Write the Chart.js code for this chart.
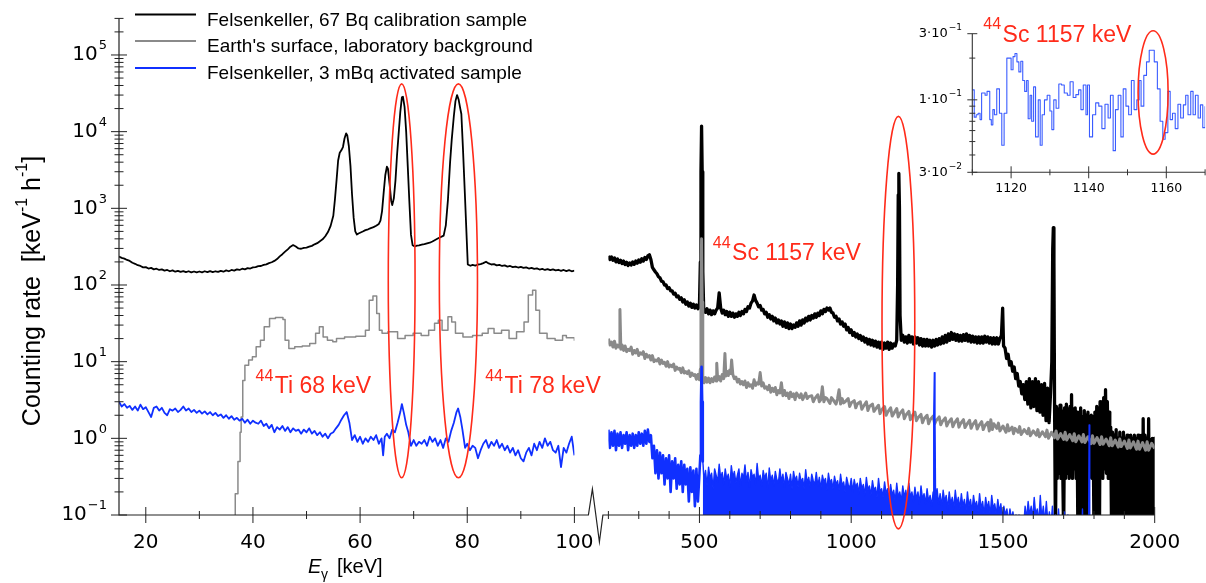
<!DOCTYPE html>
<html>
<head>
<meta charset="utf-8">
<script src="https://cdn.jsdelivr.net/npm/chart.js@4.4.1/dist/chart.umd.min.js"></script>
<style>
html, body { margin: 0; padding: 0; background: #fff; }
#wrap { position: relative; width: 1206px; height: 583px; }
#wrap canvas { position: absolute; left: 0; top: 0; }
</style>
</head>
<body>
<div id="wrap">
  <canvas id="leftChart" width="1206" height="583"></canvas>
  <canvas id="rightChart" width="1206" height="583"></canvas>
  <canvas id="insetChart" width="1206" height="583"></canvas>
</div>
<script>
// Spectra: [E (keV), counting rate (keV^-1 h^-1)]

// low-energy part, 15-100 keV
const calibLeft = [[15,235],[15.5,226],[16,221],[16.5,212],[17,206],[17.5,195],[18,189],[18.5,181],[19,177],[19.5,170],[20,171],[20.5,164],[21,167],[21.5,160],[22,163],[22.5,157],[23,160],[23.5,154],[24,157],[24.5,151],[25,155],[25.5,149],[26,153],[26.5,148],[27,152],[27.5,147],[28,151],[28.5,146],[29,150],[29.5,146],[30,150],[30.5,146],[31,151],[31.5,147],[32,152],[32.5,147],[33,151],[33.5,148],[34,153],[34.5,149],[35,155],[35.5,151],[36,157],[36.5,154],[37,160],[37.5,157],[38,163],[38.5,160],[39,166],[39.5,164],[40,170],[40.5,171],[41,176],[41.5,177],[42,183],[42.5,186],[43,193],[43.5,198],[44,206],[44.5,218],[45,236],[45.5,252],[46,272],[46.5,292],[47,316],[47.5,332],[48,318],[48.5,300],[49,297],[49.5,304],[50,307],[50.5,316],[51,324],[51.5,339],[52,351],[52.5,373],[53,394],[53.5,432],[54,490],[54.5,590],[55,800],[55.3,1300],[55.6,2300],[55.9,4200],[56.2,5300],[56.5,5700],[56.8,6300],[57.1,8200],[57.4,9500],[57.6,9000],[57.9,6500],[58.2,3600],[58.5,1500],[58.8,750],[59.1,500],[59.4,455],[59.7,470],[60,480],[60.5,498],[61,520],[61.5,533],[62,552],[62.5,568],[63,592],[63.5,625],[63.8,690],[64.1,920],[64.4,1600],[64.7,2700],[65,3500],[65.2,3300],[65.5,2100],[65.8,1250],[66,1100],[66.3,1350],[66.6,2300],[66.9,5000],[67.2,9500],[67.5,18000],[67.8,28000],[68,28500],[68.3,21000],[68.6,10000],[68.9,3500],[69.2,1200],[69.5,450],[69.8,330],[70.2,318],[70.6,326],[71,329],[71.5,336],[72,341],[72.5,349],[73,356],[73.5,369],[74,386],[74.5,404],[75,421],[75.3,430],[75.6,440],[76,600],[76.4,1300],[76.8,4000],[77.1,7800],[77.5,16000],[77.8,25000],[78.1,30000],[78.4,26000],[78.7,20000],[78.9,17000],[79.2,6000],[79.6,1300],[79.9,400],[80.1,185],[80.6,178],[81,183],[81.5,179],[82,185],[82.5,187],[83,193],[83.5,201],[84,191],[84.5,185],[85,187],[85.5,180],[86,183],[86.5,177],[87,180],[87.5,174],[88,177],[88.5,171],[89,174],[89.5,169],[90,172],[90.5,167],[91,170],[91.5,164],[92,167],[92.5,162],[93,165],[93.5,159],[94,162],[94.5,157],[95,161],[95.5,156],[96,160],[96.5,155],[97,158],[97.5,153],[98,157],[98.5,152],[99,156],[99.5,151],[100,154]];

const bgLeft = [[36.3,0.05],[36.7,0.19],[37.2,0.5],[37.6,1.2],[37.8,1.9],[38.1,5.7],[38.5,9],[39.2,10.5],[39.9,11.6],[40.6,15.7],[41.4,19],[42.1,28.5],[43.1,36.6],[44.2,37.8],[45.6,35.5],[46,19],[46.7,14.9],[47.8,15.7],[49.2,16],[50.6,17.3],[51.7,23.5],[52.4,28.5],[53.1,21],[53.9,19],[54.9,18.2],[55.6,20],[57.1,21],[59.2,21.5],[61,25.7],[61.7,63],[62.4,71.6],[63.1,42.6],[63.6,25.7],[64.1,23.5],[65.2,24.6],[67,20],[68.4,22],[69.9,23.5],[71.4,22],[72.8,25.7],[73.9,31.6],[74.6,34.8],[75.3,25.7],[76.4,38.5],[77.1,33],[77.8,23.5],[79.2,21],[81,22],[82.8,23.5],[83.9,27],[85,23.5],[86.4,25.7],[87.8,20],[89.2,24.6],[90.6,33],[91.4,73.8],[92.2,85.7],[92.8,46.8],[93.5,23.5],[94.9,20],[96.4,19],[97.8,22],[98.5,20.5],[100,18.7]];

const actLeft = [[15,3.0],[15.5,2.6],[16,2.8],[16.5,2.5],[17,2.65],[17.5,2.35],[18,2.6],[18.5,2.3],[19,2.75],[19.5,2.4],[20,2.55],[20.5,2.2],[21,1.9],[21.5,2.5],[22,2.6],[22.5,2.3],[23,2.5],[23.5,2.15],[24,2.0],[24.5,2.4],[25,2.3],[25.5,2.45],[26,2.2],[26.5,2.35],[27,2.6],[27.5,2.3],[28,2.45],[28.5,2.2],[29,2.35],[29.5,2.15],[30,2.3],[30.5,2.1],[31,2.25],[31.5,2.05],[32,2.2],[32.5,2.0],[33,2.15],[33.5,1.95],[34,2.05],[34.5,1.85],[35,2.0],[35.5,1.8],[36,1.95],[36.5,1.75],[37,1.85],[37.5,1.7],[38,1.8],[38.5,1.6],[39,1.75],[39.5,1.55],[40,1.7],[40.5,1.6],[41,1.55],[41.5,1.7],[42,1.45],[42.5,1.55],[43,1.35],[43.5,1.5],[44,1.2],[44.5,1.4],[45,1.3],[45.5,1.45],[46,1.25],[46.5,1.4],[47,1.2],[47.5,1.35],[48,1.25],[48.5,1.3],[49,1.15],[49.5,1.3],[50,1.2],[50.5,1.35],[51,1.15],[51.5,1.25],[52,1.1],[52.5,1.2],[53,1.05],[53.5,1.15],[54,1.0],[54.5,1.15],[55,1.2],[55.5,1.35],[56,1.5],[56.5,1.75],[57,2.0],[57.5,2.2],[58,1.6],[58.5,0.95],[59,1.1],[59.5,0.9],[60,1.05],[60.5,0.85],[61,1.0],[61.5,0.9],[62,1.05],[62.5,0.95],[63,1.1],[63.5,0.85],[64,1.0],[64.3,0.6],[64.6,1.05],[65,1.15],[65.5,1.0],[66,1.3],[66.5,1.2],[67,1.6],[67.5,2.2],[67.8,2.8],[68.2,2.1],[68.6,1.5],[69,1.2],[69.5,0.8],[70,0.95],[70.5,0.8],[71,0.9],[71.5,0.85],[72,0.95],[72.5,0.8],[73,1.05],[73.5,0.9],[74,1.0],[74.5,0.8],[75,0.95],[75.5,0.75],[76,1.0],[76.5,0.9],[77,1.25],[77.5,1.6],[78,2.2],[78.3,2.45],[78.7,1.9],[79.1,1.3],[79.6,0.75],[80,0.85],[80.5,0.7],[81,0.8],[81.5,0.75],[82,0.55],[82.5,0.7],[83,0.85],[83.5,0.95],[84,0.75],[84.5,0.9],[85,0.8],[85.5,0.95],[86,0.75],[86.5,0.85],[87,0.7],[87.5,0.8],[88,0.65],[88.5,0.75],[89,0.6],[89.5,0.7],[90,0.55],[90.5,0.5],[91,0.65],[91.5,0.75],[92,0.6],[92.5,0.85],[93,0.7],[93.5,0.9],[94,0.75],[94.5,1.0],[95,0.8],[95.5,0.9],[96,0.7],[96.5,0.65],[97,0.8],[97.5,0.42],[98,0.75],[98.5,0.65],[99,0.85],[99.5,1.05],[100,0.6]];

// high-energy part, 200-2000 keV
const calibRight = [[200,240],[205,215],[210,232],[215,210],[220,225],[225,200],[230,218],[235,196],[240,210],[245,190],[250,205],[255,185],[260,198],[265,180],[270,194],[275,182],[280,200],[285,186],[290,205],[295,192],[300,212],[305,198],[310,220],[315,205],[320,228],[325,215],[330,240],[335,248],[340,215],[345,170],[350,158],[355,148],[360,140],[365,128],[370,124],[375,112],[380,110],[385,100],[390,100],[395,90],[400,92],[405,84],[410,84],[415,76],[420,78],[425,70],[430,72],[435,65],[440,68],[445,60],[450,64],[455,56],[460,60],[465,53],[470,58],[475,51],[480,56],[485,50],[490,55],[495,49],[500,54],[503,200],[505,3000],[507,11800],[509,3000],[511,150],[514,48],[520,44],[525,49],[530,42],[535,47],[540,41],[545,46],[550,42],[555,47],[560,50],[565,79],[570,50],[575,43],[580,47],[585,41],[590,45],[595,39],[600,44],[605,39],[610,43],[615,38],[620,42],[625,39],[630,44],[635,40],[640,45],[645,42],[650,48],[655,45],[660,52],[665,50],[670,58],[675,62],[680,74],[685,63],[690,58],[695,52],[700,54],[705,47],[710,48],[715,42],[720,44],[725,38],[730,41],[735,36],[740,39],[745,34],[750,37],[755,32],[760,35],[765,31],[770,34],[775,29],[780,33],[785,28],[790,32],[795,27],[800,31],[805,27],[810,30],[815,28],[820,32],[825,29],[830,34],[835,30],[840,35],[845,32],[850,37],[855,34],[860,39],[865,35],[870,40],[875,37],[880,42],[885,38],[890,43],[895,40],[900,46],[905,42],[910,48],[915,45],[920,50],[925,47],[930,50],[935,44],[940,43],[945,38],[950,39],[955,34],[960,36],[965,31],[970,33],[975,29],[980,31],[985,26],[990,28],[995,24],[1000,26],[1005,22],[1010,24],[1015,21],[1020,23],[1025,20],[1030,22],[1035,19],[1040,21],[1045,18],[1050,20],[1055,17],[1060,19.5],[1065,16.5],[1070,19],[1075,16],[1080,18.5],[1085,15.5],[1090,18],[1095,15],[1100,18],[1105,14.5],[1110,17.5],[1115,15],[1120,18],[1125,14.5],[1130,17.5],[1135,15],[1140,17],[1145,16],[1150,19],[1153,100],[1155,1500],[1157,2850],[1159,1000],[1161,40],[1165,19],[1170,22],[1175,18],[1180,21],[1185,17.5],[1190,22],[1195,18],[1200,21],[1205,17],[1210,21],[1215,17.5],[1220,20.5],[1225,16.5],[1230,20],[1235,16],[1240,19.5],[1245,16],[1250,19.5],[1255,16],[1260,19],[1265,15.5],[1270,19],[1275,16],[1280,19.5],[1285,16.5],[1290,20],[1295,17],[1300,21],[1305,17.5],[1310,22],[1315,18],[1320,23],[1325,19],[1330,24],[1335,19.5],[1340,23],[1345,19],[1350,22.5],[1355,18.5],[1360,22],[1365,18.5],[1370,22.5],[1375,19],[1380,23],[1385,18.5],[1390,22],[1395,18],[1400,21.5],[1405,18],[1410,21],[1415,17.5],[1420,21],[1425,17.5],[1430,21],[1435,17.5],[1440,21.5],[1445,18],[1450,21],[1455,17.5],[1460,20.5],[1465,17],[1470,20.5],[1475,17],[1480,20.5],[1485,17],[1490,20],[1495,22],[1499,50],[1502,16],[1507,15],[1512,11],[1517,12.5],[1522,9],[1527,10],[1532,7.5],[1537,8.5],[1542,6],[1547,7],[1552,4.8],[1557,5.5],[1562,3.8],[1567,5],[1572,3.2],[1577,5.5],[1582,2.8],[1587,6],[1592,2.5],[1597,5.5],[1602,2.6],[1607,6],[1612,2.3],[1617,5.5],[1622,2.2],[1627,5],[1632,2],[1637,5.2],[1642,1.7],[1647,4.5],[1652,1.6],[1657,4],[1661,10],[1664,300],[1666,560],[1668,200],[1670,3],[1673,0.05],[1676,2.6],[1679,0.3],[1682,2.4],[1685,0.35],[1688,2.7],[1691,0.3],[1694,2.3],[1697,0.4],[1700,0.05],[1703,2.5],[1706,0.3],[1709,2.8],[1712,0.35],[1715,2.4],[1718,0.3],[1721,2.6],[1724,0.35],[1726,3.7],[1729,0.3],[1732,2.4],[1735,0.4],[1738,2.5],[1741,0.3],[1744,2.2],[1747,0.05],[1750,2.0],[1753,0.05],[1756,2.5],[1759,0.05],[1762,1.9],[1765,0.05],[1768,2.3],[1771,0.05],[1774,2.0],[1777,0.05],[1780,2.2],[1783,0.3],[1786,1.7],[1788,0.35],[1791,2.0],[1794,0.3],[1797,1.9],[1800,0.05],[1803,2.2],[1806,0.05],[1809,2.6],[1812,0.05],[1815,2.3],[1818,0.05],[1820,3.0],[1823,0.35],[1826,2.8],[1829,0.3],[1832,3.4],[1835,0.4],[1838,4.3],[1841,0.35],[1844,3.0],[1847,0.3],[1850,2.2],[1852,0.3],[1855,1.4],[1858,0.05],[1861,1.2],[1864,0.05],[1867,1.1],[1870,0.05],[1873,1.3],[1876,0.05],[1879,1.0],[1882,0.05],[1885,1.2],[1888,0.05],[1891,1.0],[1894,0.05],[1897,1.2],[1900,0.05],[1903,1.0],[1906,0.05],[1909,1.1],[1912,0.05],[1915,1.0],[1918,0.05],[1921,1.1],[1924,0.05],[1927,1.0],[1930,0.05],[1933,1.1],[1936,0.05],[1939,1.0],[1942,0.05],[1945,1.1],[1948,0.05],[1951,1.0],[1954,0.05],[1957,1.1],[1960,0.05],[1962,1.8],[1965,0.05],[1968,1.1],[1971,0.05],[1974,1.0],[1977,0.05],[1980,1.8],[1983,0.05],[1986,0.95],[1989,0.05],[1992,1.0],[1995,0.05],[1998,1.0],[2000,0.05]];

const bgRight = [[200,20],[205,16.5],[210,18],[215,15.5],[220,18.5],[225,15],[230,16.5],[235,15.5],[238,48],[241,14.5],[245,16.5],[250,14],[255,16],[260,13.5],[265,14.5],[270,14],[275,15.5],[280,12.5],[285,14],[290,13],[295,14.5],[300,12],[305,13],[310,12.5],[315,13.5],[320,11],[325,12.5],[330,11.5],[335,12],[340,10.5],[345,12],[350,10],[355,10.5],[360,10.2],[365,11],[370,9.3],[375,10.5],[380,9.5],[385,9.8],[390,8.7],[395,10],[400,8.5],[405,9],[410,8.6],[415,9.3],[420,7.7],[425,8.5],[430,8],[435,8.2],[440,7.2],[445,8.3],[450,7.1],[455,7.4],[460,7],[465,7.6],[470,6.4],[475,7.1],[480,6.6],[485,6.8],[490,5.9],[495,6.8],[500,5.8],[503,8],[505,60],[507,400],[509,60],[511,6],[515,5.3],[520,6.2],[525,5.4],[530,6.1],[535,5.3],[540,6],[545,5.5],[550,6.3],[555,5.6],[557,9.5],[560,5.8],[565,6.4],[570,5.6],[575,6.8],[580,6],[584,12.8],[587,6.5],[590,7.5],[595,6.6],[600,7.8],[603,7],[606,10.5],[610,6.8],[615,6.0],[620,6.3],[625,5.4],[630,5.9],[635,5.1],[640,5.5],[645,5.0],[650,5.6],[655,4.6],[660,5.3],[665,4.8],[670,5.0],[675,4.5],[680,5.8],[685,4.9],[690,5.3],[695,5.1],[700,7.2],[705,4.8],[710,5.3],[715,4.5],[720,4.7],[725,4.3],[730,4.9],[735,4.0],[740,4.5],[745,4.1],[750,4.6],[755,3.7],[760,4.2],[765,3.9],[770,5.3],[775,3.6],[780,4.2],[785,3.6],[790,3.9],[795,3.3],[800,4.0],[805,3.5],[810,3.8],[815,3.2],[820,3.9],[830,3.4],[835,3.8],[840,3.2],[850,3.9],[855,3.3],[860,3.5],[870,3.6],[875,3.0],[880,3.3],[890,3.7],[895,3.0],[900,3.2],[905,4.7],[910,3.0],[915,3.4],[920,3.3],[930,2.85],[935,3.4],[940,3.2],[950,2.8],[955,3.3],[960,4.3],[965,2.8],[970,3.3],[975,2.9],[980,3.0],[990,3.3],[995,2.6],[1000,2.9],[1010,3.1],[1015,2.5],[1020,2.8],[1030,3.0],[1035,2.4],[1040,2.6],[1050,3.0],[1055,2.3],[1060,2.6],[1070,2.8],[1075,2.25],[1080,2.4],[1090,2.7],[1095,2.1],[1100,2.35],[1110,2.6],[1115,2.0],[1120,2.2],[1130,2.5],[1135,1.95],[1140,2.1],[1150,2.45],[1155,1.9],[1160,2.1],[1170,2.35],[1175,1.8],[1180,2.0],[1190,2.25],[1195,1.75],[1200,1.95],[1210,2.2],[1215,1.7],[1220,1.85],[1230,2.05],[1235,1.6],[1240,1.8],[1250,2.0],[1255,1.55],[1260,1.75],[1270,1.95],[1275,1.55],[1280,1.7],[1290,1.9],[1295,1.5],[1300,1.65],[1310,1.85],[1315,1.45],[1320,1.6],[1330,1.8],[1335,1.42],[1340,1.58],[1350,1.8],[1355,1.4],[1360,1.55],[1370,1.75],[1375,1.38],[1380,1.5],[1390,1.72],[1395,1.35],[1400,1.5],[1410,1.7],[1415,1.32],[1420,1.45],[1430,1.65],[1435,1.3],[1440,1.45],[1450,1.62],[1455,1.25],[1460,1.75],[1465,1.3],[1470,1.55],[1480,1.35],[1485,1.58],[1490,1.25],[1500,1.45],[1510,1.2],[1515,1.5],[1520,1.25],[1530,1.4],[1535,1.15],[1540,1.35],[1550,1.2],[1555,1.42],[1560,1.12],[1570,1.3],[1580,1.15],[1585,1.35],[1590,1.08],[1600,1.25],[1610,1.1],[1615,1.3],[1620,1.05],[1630,1.22],[1640,1.05],[1645,1.28],[1650,1.0],[1660,1.2],[1670,1.02],[1675,1.25],[1680,0.98],[1690,1.15],[1700,0.97],[1705,1.2],[1710,0.95],[1720,1.12],[1730,0.93],[1735,1.15],[1740,0.9],[1750,1.08],[1760,0.9],[1765,1.12],[1770,0.88],[1780,1.05],[1790,0.85],[1795,1.08],[1800,0.86],[1810,1.02],[1820,0.83],[1825,1.05],[1830,0.84],[1840,0.98],[1850,0.8],[1855,1.02],[1860,0.8],[1870,0.95],[1880,0.77],[1885,0.98],[1890,0.78],[1900,0.92],[1910,0.74],[1915,0.95],[1920,0.75],[1930,0.9],[1940,0.72],[1945,0.92],[1950,0.72],[1960,0.88],[1970,0.7],[1975,0.9],[1980,0.7],[1990,0.86],[2000,0.74]];

const actRightLow = [[200,1.3],[205,0.75],[210,1.2],[215,0.8],[220,1.25],[225,0.7],[230,1.15],[235,0.8],[240,1.2],[245,0.75],[250,1.1],[255,0.85],[260,1.2],[265,0.7],[270,1.1],[275,0.8],[280,1.15],[285,0.75],[290,1.1],[295,0.8],[300,1.2],[305,0.85],[310,1.15],[315,0.8],[320,1.25],[325,0.85],[330,1.3],[335,0.9],[340,1.1],[345,0.55],[350,0.8],[355,0.35],[360,0.7],[365,0.3],[370,0.65],[375,0.35],[380,0.6],[385,0.25],[390,0.55],[395,0.3],[400,0.6],[405,0.2],[410,0.5],[415,0.3],[420,0.55],[425,0.22],[430,0.45],[435,0.25],[440,0.5],[445,0.2],[450,0.45],[455,0.25],[460,0.4],[465,0.15],[470,0.42],[475,0.2],[480,0.38],[485,0.13],[490,0.4],[495,0.15],[500,0.35],[503,0.6],[505,3],[507,8.6],[509,3],[511,0.5]];

const actRightHigh = [[511,0.5],[512,0.45],[515,0.28],[520,0.38],[525,0.24],[530,0.42],[535,0.3],[540,0.35],[545,0.22],[550,0.4],[555,0.33],[560,0.27],[565,0.46],[570,0.3],[575,0.36],[580,0.25],[585,0.4],[590,0.29],[595,0.34],[600,0.23],[605,0.44],[610,0.31],[615,0.37],[620,0.26],[625,0.33],[630,0.4],[635,0.24],[640,0.35],[645,0.3],[650,0.45],[655,0.27],[660,0.36],[665,0.23],[670,0.39],[675,0.31],[680,0.34],[685,0.25],[690,0.47],[695,0.29],[700,0.33],[705,0.24],[710,0.38],[715,0.3],[720,0.35],[725,0.22],[730,0.41],[735,0.28],[740,0.33],[745,0.24],[750,0.37],[755,0.29],[760,0.26],[765,0.4],[770,0.27],[775,0.34],[780,0.23],[785,0.36],[790,0.3],[795,0.25],[800,0.34],[805,0.22],[810,0.37],[815,0.28],[820,0.32],[825,0.23],[830,0.35],[835,0.27],[840,0.3],[845,0.22],[850,0.39],[855,0.26],[860,0.31],[865,0.23],[870,0.34],[875,0.28],[880,0.25],[885,0.36],[890,0.24],[895,0.31],[900,0.22],[905,0.33],[910,0.27],[915,0.3],[920,0.21],[925,0.35],[930,0.26],[935,0.29],[940,0.22],[945,0.32],[950,0.25],[955,0.28],[960,0.21],[965,0.34],[970,0.24],[975,0.27],[980,0.2],[985,0.31],[990,0.25],[995,0.22],[1000,0.3],[1005,0.2],[1010,0.29],[1015,0.23],[1020,0.26],[1025,0.19],[1030,0.3],[1035,0.22],[1040,0.25],[1045,0.18],[1050,0.31],[1055,0.21],[1060,0.24],[1065,0.18],[1070,0.28],[1075,0.21],[1080,0.23],[1085,0.17],[1090,0.3],[1095,0.2],[1100,0.22],[1105,0.17],[1110,0.27],[1115,0.19],[1120,0.22],[1125,0.16],[1130,0.25],[1135,0.18],[1140,0.21],[1145,0.15],[1150,0.26],[1155,0.17],[1160,0.2],[1165,0.15],[1170,0.24],[1175,0.17],[1180,0.21],[1185,0.15],[1190,0.26],[1195,0.17],[1200,0.2],[1205,0.15],[1210,0.23],[1215,0.16],[1220,0.2],[1225,0.14],[1230,0.24],[1235,0.16],[1240,0.19],[1245,0.14],[1250,0.22],[1255,0.15],[1260,0.18],[1265,0.13],[1270,0.2],[1272,2],[1274,7.2],[1276,2],[1278,0.16],[1283,0.22],[1288,0.14],[1293,0.19],[1298,0.13],[1303,0.21],[1308,0.15],[1313,0.18],[1318,0.12],[1323,0.2],[1328,0.14],[1333,0.17],[1338,0.12],[1343,0.21],[1348,0.14],[1353,0.17],[1358,0.12],[1363,0.19],[1368,0.13],[1373,0.16],[1378,0.11],[1383,0.2],[1388,0.13],[1393,0.16],[1398,0.11],[1403,0.18],[1408,0.13],[1413,0.15],[1418,0.11],[1423,0.19],[1428,0.12],[1433,0.15],[1438,0.1],[1443,0.17],[1448,0.12],[1453,0.15],[1458,0.1],[1463,0.18],[1468,0.12],[1473,0.14],[1478,0.1],[1483,0.16],[1488,0.11],[1493,0.14],[1498,0.09],[1503,0.13],[1508,0.1],[1513,0.12],[1518,0.08],[1523,0.12],[1528,0.09],[1533,0.11],[1538,0.07],[1543,0.1],[1548,0.08],[1553,0.1],[1558,0.07],[1563,0.09],[1568,0.07],[1573,0.13],[1578,0.09],[1583,0.15],[1588,0.1],[1593,0.13],[1598,0.09],[1603,0.17],[1608,0.1],[1613,0.12],[1618,0.08],[1623,0.18],[1628,0.09],[1633,0.13],[1638,0.08],[1643,0.15],[1648,0.08],[1653,0.11],[1658,0.07],[1663,0.13],[1668,0.07],[1673,0.1],[1678,0.06],[1683,0.12],[1688,0.06],[1693,0.09],[1698,0.05],[1703,0.11],[1708,0.05],[1714,0.1],[1718,0.05],[1760,0.05],[1762,0.12],[1764,0.05],[1782,0.05],[1784,1.5],[1786,0.05],[1800,0.05]];

// inset: activated sample around the 1157 keV line
const actInset = [[1110,0.118],[1110.5,0.075],[1111,0.078],[1111.5,0.08],[1112,0.072],[1112.4,0.112],[1113,0.112],[1113.3,0.108],[1113.8,0.115],[1114.5,0.072],[1114.9,0.066],[1115.3,0.085],[1115.7,0.078],[1116.3,0.12],[1117,0.08],[1117.6,0.047],[1118.2,0.08],[1118.9,0.2],[1119.5,0.2],[1120,0.165],[1120.5,0.205],[1121,0.216],[1121.5,0.188],[1122,0.159],[1122.5,0.19],[1123,0.138],[1123.5,0.115],[1124,0.138],[1124.4,0.073],[1124.9,0.108],[1125.3,0.07],[1125.8,0.124],[1126.3,0.054],[1127,0.1],[1127.5,0.047],[1128,0.078],[1128.6,0.1],[1129.3,0.108],[1130,0.083],[1130.5,0.061],[1131,0.1],[1131.6,0.087],[1132.3,0.13],[1133,0.128],[1133.7,0.112],[1134.5,0.108],[1135.2,0.135],[1136,0.104],[1136.7,0.109],[1137.4,0.118],[1138,0.085],[1138.6,0.128],[1139.3,0.078],[1139.7,0.128],[1140.2,0.054],[1141,0.078],[1141.8,0.095],[1142.6,0.09],[1143.4,0.062],[1144.2,0.093],[1145,0.074],[1145.6,0.108],[1146.3,0.043],[1146.9,0.085],[1147.6,0.108],[1148.3,0.054],[1148.9,0.12],[1149.6,0.09],[1150.3,0.078],[1151,0.138],[1151.7,0.085],[1152.4,0.1],[1153,0.138],[1153.5,0.09],[1154.2,0.15],[1154.9,0.188],[1155.6,0.228],[1156.3,0.228],[1156.9,0.188],[1157.7,0.12],[1158.4,0.07],[1159.1,0.052],[1159.7,0.058],[1160.4,0.115],[1161,0.072],[1161.6,0.08],[1162.3,0.062],[1163,0.093],[1163.7,0.074],[1164.4,0.092],[1165,0.108],[1165.6,0.078],[1166.3,0.115],[1166.9,0.078],[1167.5,0.108],[1168.2,0.074],[1168.8,0.092],[1169.4,0.063],[1170,0.09]];

// ticks and labels
const leftTicksMajor = [20, 40, 60, 80, 100];
const leftTicksMinor = [30, 50, 70, 90];
const rightTicksMajor = [500, 1000, 1500, 2000];
const rightTicksMinor = [200, 300, 400, 600, 700, 800, 900, 1100, 1200, 1300, 1400, 1600, 1700, 1800, 1900];
const yDecades = [0.1, 1, 10, 100, 1000, 10000, 100000];
const yExponents = ['−1', '0', '1', '2', '3', '4', '5'];
const insetTicksMajor = [1120, 1140, 1160];
const insetTicksMinor = [1110, 1130, 1150, 1170];
const insetYMajor = [0.03, 0.1, 0.3];
const insetYLabels = [['3·10', '−2'], ['1·10', '−1'], ['3·10', '−1']];
const insetYMinor = [0.04, 0.05, 0.06, 0.07, 0.08, 0.09, 0.2];

const legendLabels = ['Felsenkeller, 67 Bq calibration sample', "Earth's surface, laboratory background", 'Felsenkeller, 3 mBq activated sample'];

// red marks: text anchors and ellipses in data units
const leftNotes = [{ e: 40.49, r: 3.86, text: 'Ti 68 keV' }, { e: 83.34, r: 3.86, text: 'Ti 78 keV' }];
const leftRings = [{ e: 67.76, de: 2.5, top: 4.2e4, bottom: 0.306 }, { e: 78.35, de: 3.56, top: 4.2e4, bottom: 0.306 }];
const rightNotes = [{ e: 544, r: 211, text: 'Sc 1157 keV' }];
const rightRings = [{ e: 1155.5, de: 54, top: 1.58e4, bottom: 0.066 }];
const insetNotes = [{ e: 1112.84, r: 0.262, text: 'Sc 1157 keV' }];
const insetRings = [{ e: 1156.6, de: 3.87, top: 0.315, bottom: 0.0406 }];

const BLACK = '#000000';
const GREY = '#8a8a8a';
const BLUE = '#1030ff';
const RED = '#ff2b1a';
const AXIS = '#222222';
const SANS = '"Liberation Sans", Arial, sans-serif';
const DEJA = '"DejaVu Sans", sans-serif';

function lineSet(data, color, width, order, extra) {
    return Object.assign({
        data: data,
        borderColor: color,
        backgroundColor: color,
        borderWidth: width,
        pointRadius: 0,
        tension: 0,
        borderJoinStyle: 'round',
        fill: false,
        order: order
    }, extra || {});
}

function baseOptions(padding, xMin, xMax, yMin, yMax) {
    return {
        responsive: false,
        animation: false,
        devicePixelRatio: 1,
        events: [],
        layout: { padding: padding },
        plugins: { legend: { display: false }, tooltip: { enabled: false } },
        scales: {
            x: { type: 'linear', min: xMin, max: xMax, display: false },
            y: { type: 'logarithmic', min: yMin, max: yMax, display: false }
        }
    };
}

// tick marks crossing an axis line
function xTickMarks(ctx, xs, yPix, values, half) {
    ctx.beginPath();
    values.forEach(v => {
        const px = xs.getPixelForValue(v);
        ctx.moveTo(px, yPix - half);
        ctx.lineTo(px, yPix + half);
    });
    ctx.stroke();
}
function yTickMarks(ctx, ys, xPix, values, half) {
    ctx.beginPath();
    values.forEach(v => {
        const py = ys.getPixelForValue(v);
        ctx.moveTo(xPix - half, py);
        ctx.lineTo(xPix + half, py);
    });
    ctx.stroke();
}
function xLabels(ctx, xs, values, baseY, size) {
    ctx.font = size + 'px ' + DEJA;
    ctx.textAlign = 'center';
    ctx.textBaseline = 'alphabetic';
    values.forEach(v => ctx.fillText(String(v), xs.getPixelForValue(v), baseY));
}
// "base^exp" right-aligned at xRight, centred on py
function powerLabel(ctx, xRight, py, base, exp, size, expSize, lift) {
    ctx.textAlign = 'right';
    ctx.textBaseline = 'middle';
    ctx.font = expSize + 'px ' + DEJA;
    const ew = ctx.measureText(exp).width;
    ctx.fillText(exp, xRight, py - lift);
    ctx.font = size + 'px ' + DEJA;
    ctx.fillText(base, xRight - ew - 1, py);
}
function drawNotes(ctx, xs, ys, notes) {
    ctx.fillStyle = RED;
    ctx.textAlign = 'left';
    ctx.textBaseline = 'alphabetic';
    notes.forEach(n => {
        const x = xs.getPixelForValue(n.e);
        const y = ys.getPixelForValue(n.r);
        ctx.font = '16px ' + SANS;
        ctx.fillText('44', x, y - 12.5);
        const w = ctx.measureText('44').width;
        ctx.font = '23px ' + SANS;
        ctx.fillText(n.text, x + w + 1.5, y);
    });
}
function drawRings(ctx, xs, ys, rings) {
    ctx.strokeStyle = RED;
    ctx.lineWidth = 1.6;
    rings.forEach(r => {
        const cx = xs.getPixelForValue(r.e);
        const rx = xs.getPixelForValue(r.e + r.de) - cx;
        const top = ys.getPixelForValue(r.top);
        const bottom = ys.getPixelForValue(r.bottom);
        ctx.beginPath();
        ctx.ellipse(cx, (top + bottom) / 2, rx, (bottom - top) / 2, 0, 0, Math.PI * 2);
        ctx.stroke();
    });
}
function yMinorValues(minV, maxV) {
    const out = [];
    for (let d = 0.1; d < maxV; d *= 10) {
        for (let m = 2; m <= 9; m++) {
            const v = +(m * d).toPrecision(3);
            if (v > minV && v <= maxV) out.push(v);
        }
    }
    return out;
}

// left panel decorations: axes, legend, axis titles, annotations
const leftDecor = {
    id: 'leftDecor',
    afterDraw(chart) {
        const { ctx, chartArea: a } = chart;
        const xs = chart.scales.x, ys = chart.scales.y;
        ctx.save();
        ctx.strokeStyle = AXIS;
        ctx.lineWidth = 1.2;
        ctx.beginPath();
        ctx.moveTo(a.left, a.top);
        ctx.lineTo(a.left, a.bottom);
        ctx.lineTo(a.right, a.bottom);
        // axis break between the two energy ranges
        ctx.lineTo(a.right + 14, a.bottom);
        ctx.lineTo(a.right + 18, a.bottom - 26);
        ctx.lineTo(a.right + 25, a.bottom + 27);
        ctx.lineTo(a.right + 28.5, a.bottom);
        ctx.lineTo(a.right + 34, a.bottom);
        ctx.stroke();

        ctx.lineWidth = 1;
        xTickMarks(ctx, xs, a.bottom, leftTicksMajor, 8);
        xTickMarks(ctx, xs, a.bottom, leftTicksMinor, 4);
        yTickMarks(ctx, ys, a.left, yDecades, 8);
        yTickMarks(ctx, ys, a.left, yMinorValues(0.1, 3e5), 4.5);

        ctx.fillStyle = '#000';
        xLabels(ctx, xs, leftTicksMajor, 548, 20);
        yDecades.forEach((v, i) => powerLabel(ctx, 107, ys.getPixelForValue(v), '10', yExponents[i], 20, 13, 9));

        // y title
        ctx.save();
        ctx.translate(33, 291);
        ctx.rotate(-Math.PI / 2);
        const parts = [['Counting rate  [keV', 25, 0], ['-1', 16, -10], [' h', 25, 0], ['-1', 16, -10], [']', 25, 0]];
        let total = 0;
        parts.forEach(p => { ctx.font = p[1] + 'px ' + SANS; total += ctx.measureText(p[0]).width; });
        let x = -total / 2;
        ctx.textAlign = 'left';
        ctx.textBaseline = 'middle';
        parts.forEach(p => {
            ctx.font = p[1] + 'px ' + SANS;
            ctx.fillText(p[0], x, p[2]);
            x += ctx.measureText(p[0]).width;
        });
        ctx.restore();

        // x title
        ctx.textAlign = 'left';
        ctx.textBaseline = 'alphabetic';
        ctx.font = 'italic 20px ' + SANS;
        ctx.fillText('E', 308, 573);
        ctx.font = '14px ' + SANS;
        ctx.fillText('γ', 321, 579);
        ctx.font = '20px ' + SANS;
        ctx.fillText('[keV]', 337, 573);

        // legend
        const colors = [BLACK, GREY, BLUE];
        const lineY = [14.5, 41, 68];
        ctx.lineWidth = 1.8;
        legendLabels.forEach((label, i) => {
            ctx.strokeStyle = colors[i];
            ctx.beginPath();
            ctx.moveTo(135, lineY[i]);
            ctx.lineTo(196, lineY[i]);
            ctx.stroke();
            ctx.fillStyle = '#000';
            ctx.font = '19px ' + SANS;
            ctx.fillText(label, 207, lineY[i] + 11);
        });

        drawRings(ctx, xs, ys, leftRings);
        drawNotes(ctx, xs, ys, leftNotes);
        ctx.restore();
    }
};

const rightDecor = {
    id: 'rightDecor',
    afterDraw(chart) {
        const { ctx, chartArea: a } = chart;
        const xs = chart.scales.x, ys = chart.scales.y;
        ctx.save();
        ctx.strokeStyle = AXIS;
        ctx.lineWidth = 1.2;
        ctx.beginPath();
        ctx.moveTo(a.left, a.bottom);
        ctx.lineTo(a.right, a.bottom);
        ctx.stroke();
        ctx.lineWidth = 1;
        xTickMarks(ctx, xs, a.bottom, rightTicksMajor, 8);
        xTickMarks(ctx, xs, a.bottom, rightTicksMinor, 4);
        ctx.fillStyle = '#000';
        xLabels(ctx, xs, rightTicksMajor, 548, 20);
        drawRings(ctx, xs, ys, rightRings);
        drawNotes(ctx, xs, ys, rightNotes);
        ctx.restore();
    }
};

const insetDecor = {
    id: 'insetDecor',
    afterDraw(chart) {
        const { ctx, chartArea: a } = chart;
        const xs = chart.scales.x, ys = chart.scales.y;
        ctx.save();
        ctx.strokeStyle = '#333';
        ctx.lineWidth = 1.1;
        ctx.beginPath();
        ctx.moveTo(a.left, a.top);
        ctx.lineTo(a.left, a.bottom);
        ctx.lineTo(a.right, a.bottom);
        ctx.stroke();
        ctx.lineWidth = 1;
        xTickMarks(ctx, xs, a.bottom, insetTicksMajor, 6);
        xTickMarks(ctx, xs, a.bottom, insetTicksMinor, 3);
        yTickMarks(ctx, ys, a.left, insetYMajor, 5);
        yTickMarks(ctx, ys, a.left, insetYMinor, 3);
        ctx.fillStyle = '#000';
        xLabels(ctx, xs, insetTicksMajor, 192, 12.5);
        insetYMajor.forEach((v, i) => powerLabel(ctx, 962, ys.getPixelForValue(v), insetYLabels[i][0], insetYLabels[i][1], 13, 9, 6));
        drawRings(ctx, xs, ys, insetRings);
        drawNotes(ctx, xs, ys, insetNotes);
        ctx.restore();
    }
};

new Chart(document.getElementById('leftChart'), {
    type: 'line',
    data: {
        datasets: [
            lineSet(actLeft, BLUE, 1.8, 1),
            lineSet(bgLeft, GREY, 1.5, 2, { stepped: true }),
            lineSet(calibLeft, BLACK, 1.8, 3)
        ]
    },
    options: baseOptions({ left: 119, right: 631.6, top: 18.4, bottom: 68 }, 15, 100, 0.1, 3e5),
    plugins: [leftDecor]
});

new Chart(document.getElementById('rightChart'), {
    type: 'line',
    data: {
        datasets: [
            lineSet(actRightLow, BLUE, 2.6, 1),
            lineSet(actRightHigh, BLUE, 1.4, 1, { fill: 'start' }),
            lineSet(bgRight, GREY, 3, 2),
            lineSet(calibRight, BLACK, 3.3, 3)
        ]
    },
    options: baseOptions({ left: 608.4, right: 51.3, top: 18.4, bottom: 68 }, 200, 2000, 0.1, 3e5),
    plugins: [rightDecor]
});

new Chart(document.getElementById('insetChart'), {
    type: 'line',
    data: {
        datasets: [lineSet(actInset, '#3a5cff', 1.1, 1, { stepped: true })]
    },
    options: baseOptions({ left: 972.3, right: 0.9, top: 33.7, bottom: 410.7 }, 1110, 1170, 0.03, 0.3),
    plugins: [insetDecor]
});
</script>
</body>
</html>
